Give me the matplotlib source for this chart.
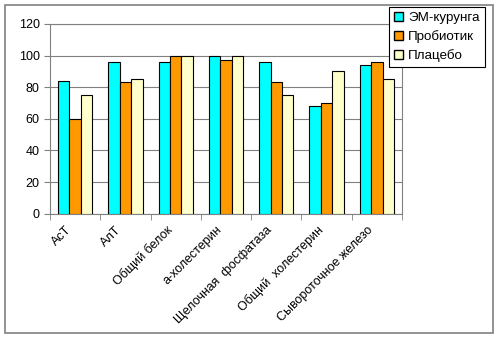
import numpy as np
import matplotlib.pyplot as plt
import matplotlib.transforms as mtrans
from matplotlib.patches import Patch, Rectangle

plt.rcParams['font.family'] = ['Liberation Sans', 'DejaVu Sans']

categories = ['АсТ', 'АлТ', 'Общий белок', 'а-холестерин',
              'Щелочная  фосфатаза', 'Общий  холестерин', 'Сывороточное железо']
em_kurunga = [84, 96, 96, 100, 96, 68, 94]
probiotic = [60, 83, 100, 97, 83, 70, 96]
placebo = [75, 85, 100, 100, 75, 90, 85]

series = [('ЭМ-курунга', em_kurunga, '#00FFFF'),
          ('Пробиотик', probiotic, '#FF9900'),
          ('Плацебо', placebo, '#FFFFCC')]

fig = plt.figure(figsize=(5, 3.37), dpi=100)
ax = fig.add_axes([0.1, 0.366, 0.704, 0.563])

x = np.arange(len(categories))
w = 0.227
for i, (name, vals, col) in enumerate(series):
    ax.bar(x + (i - 1) * w, vals, w, color=col, edgecolor='black', linewidth=0.8, zorder=3)

ax.set_xlim(-0.5, len(categories) - 0.5)
ax.set_ylim(0, 120)
ax.set_yticks(range(0, 121, 20))
ax.yaxis.grid(True, color='#808080', linewidth=0.8, zorder=0)

# category labels at centers, ticks between categories
ax.set_xticks(x)
ax.set_xticklabels(categories, rotation=45, ha='right', rotation_mode='anchor', fontsize=9)
ax.tick_params(axis='x', length=0, pad=6)
shift = mtrans.ScaledTranslation(-10 / 100, -2 / 100, fig.dpi_scale_trans)
for lab in ax.get_xticklabels():
    lab.set_transform(lab.get_transform() + shift)
ax.set_xticks(np.arange(-0.5, len(categories)), minor=True)
ax.tick_params(axis='x', which='minor', length=4, color='#808080')
ax.tick_params(axis='y', labelsize=9, length=4, color='#808080')

for s in ['top', 'right', 'left', 'bottom']:
    ax.spines[s].set_color('#808080')

handles = [Patch(facecolor=c, edgecolor='black', label=n) for n, _, c in series]
leg = fig.legend(handles=handles, loc='upper left', bbox_to_anchor=(0.778, 0.978),
                 fontsize=9.6, fancybox=False, framealpha=1, edgecolor='black',
                 handlelength=0.7, handleheight=0.7, handletextpad=0.4,
                 borderpad=0.35, labelspacing=0.45, borderaxespad=0)
leg.get_frame().set_linewidth(0.8)

fig.patches.append(Rectangle((0.01, 0.013), 0.976, 0.973, transform=fig.transFigure,
                             fill=False, edgecolor='#808080', linewidth=1.2))

fig.savefig('out.png', dpi=100)
